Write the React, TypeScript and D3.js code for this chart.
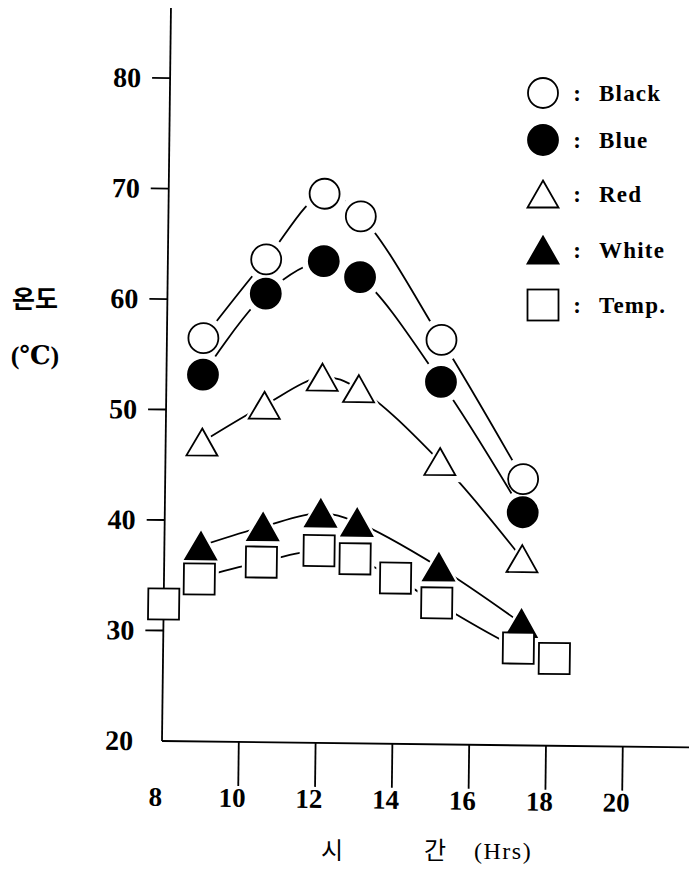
import React from 'react';
import * as d3 from 'd3';

// hours of the day when the coloured panels were read
const hours = [8.95, 10.56, 12.06, 13.01, 15.15, 17.32];
const black = [56.5, 63.7, 69.7, 67.7, 56.6, 44.1];
const blue = [53.2, 60.6, 63.6, 62.2, 52.8, 41.1];
const red = [47.1, 50.5, 53.1, 52.1, 45.6, 36.9];
const white = [37.7, 39.5, 40.8, 40.0, 36.05, 31.05];

// air temperature has its own readings
const tempHours = [8.0, 8.92, 10.53, 12.03, 12.97, 14.03, 15.11, 17.25, 18.19];
const temp = [32.4, 34.7, 36.3, 37.4, 36.7, 35.0, 32.8, 28.8, 27.9];

const seriesNames = ['Black', 'Blue', 'Red', 'White', 'Temp.'];
const seriesShapes = ['circleOpen', 'circleFilled', 'triOpen', 'triFilled', 'square'];

const yTicks = [30, 40, 50, 60, 70, 80];
const yLabels = [20, 30, 40, 50, 60, 70, 80];
const xTicks = [10, 12, 14, 16, 18, 20];
const xLabels = [8, 10, 12, 14, 16, 18, 20];

const W = 689;
const H = 871;
const ox = 162; // axis corner
const oy = 741;

const x = d3.scaleLinear().domain([8, 20]).range([ox, ox + 12 * 38.4]);
const y = d3.scaleLinear().domain([20, 80]).range([oy, oy - 663]);

const serif = '"Liberation Serif", "DejaVu Serif", serif';
const korean = '"Noto Sans CJK KR", sans-serif';

// draws one marker; grow enlarges the shape (used for the line gaps)
function Marker({ shape, cx, cy, grow = 0, fill }: any) {
  const sw = 1.8;
  const filled = shape === 'circleFilled' || shape === 'triFilled';
  const f = fill || (filled ? '#000' : '#fff');
  const st = fill || '#000';
  if (shape === 'circleOpen' || shape === 'circleFilled') {
    return <circle cx={cx} cy={cy} r={15 + grow} fill={f} stroke={st} strokeWidth={sw} />;
  }
  if (shape === 'triOpen' || shape === 'triFilled') {
    const hw = 15.5 + grow;
    const hh = 13.5 + grow;
    const d = `M${cx},${cy - hh}L${cx + hw},${cy + hh}L${cx - hw},${cy + hh}Z`;
    return <path d={d} fill={f} stroke={st} strokeWidth={sw} strokeLinejoin="miter" />;
  }
  const s = 15.5 + grow;
  return <rect x={cx - s} y={cy - s} width={2 * s} height={2 * s} fill={f} stroke={st} strokeWidth={sw} />;
}

export default function App() {
  const series = [
    { name: seriesNames[0], shape: seriesShapes[0], pts: hours.map((h, i) => [h, black[i]]), gap: 6 },
    { name: seriesNames[1], shape: seriesShapes[1], pts: hours.map((h, i) => [h, blue[i]]), gap: 6 },
    { name: seriesNames[2], shape: seriesShapes[2], pts: hours.map((h, i) => [h, red[i]]), gap: 6 },
    { name: seriesNames[3], shape: seriesShapes[3], pts: hours.map((h, i) => [h, white[i]]), gap: 6 },
    { name: seriesNames[4], shape: seriesShapes[4], pts: tempHours.map((h, i) => [h, temp[i]]), gap: 3 },
  ];

  const line = d3
    .line<number[]>()
    .x((d) => x(d[0]))
    .y((d) => y(d[1]))
    .curve(d3.curveCatmullRom.alpha(0.5));

  const legendY = [93, 140, 194, 250, 305];

  return (
    <div style={{ position: 'absolute', left: 0, top: 0 }}>
      <svg width={W} height={H} viewBox={`0 0 ${W} ${H}`} style={{ display: 'block', background: '#fff' }}>
        <rect width={W} height={H} fill="#fff" />
        <defs>
          {series.map((s, i) => (
            <mask key={i} id={`gap${i}`} maskUnits="userSpaceOnUse" x={-100} y={-100} width={W + 200} height={H + 200}>
              <rect x={-100} y={-100} width={W + 200} height={H + 200} fill="#fff" />
              {s.pts.map((p, j) => (
                <Marker key={j} shape={s.shape} cx={x(p[0])} cy={y(p[1])} grow={s.gap} fill="#000" />
              ))}
            </mask>
          ))}
        </defs>

        <g transform={`rotate(0.7, ${ox}, ${oy})`}>
          {/* axes */}
          <line x1={ox} y1={oy} x2={ox} y2={8} stroke="#000" strokeWidth={1.8} />
          <line x1={ox} y1={oy} x2={720} y2={oy} stroke="#000" strokeWidth={1.8} />

          {yTicks.map((t) => (
            <line key={t} x1={ox - 18} x2={ox} y1={y(t)} y2={y(t)} stroke="#000" strokeWidth={1.8} />
          ))}
          {yLabels.map((t) => (
            <text key={t} x={ox - 29} y={y(t)} dy="0.34em" textAnchor="end" fontFamily={serif} fontWeight="bold" fontSize={28}>
              {t}
            </text>
          ))}

          {xTicks.map((t) => (
            <line key={t} x1={x(t)} x2={x(t)} y1={oy} y2={oy + 44} stroke="#000" strokeWidth={1.8} />
          ))}
          {xLabels.map((t) => (
            <text key={t} x={x(t) - 6} y={806} textAnchor="middle" fontFamily={serif} fontWeight="bold" fontSize={27}>
              {t}
            </text>
          ))}

          {/* lines with gaps around their own markers */}
          {series.map((s, i) => (
            <path key={i} d={line(s.pts) || ''} fill="none" stroke="#000" strokeWidth={1.8} mask={`url(#gap${i})`} />
          ))}

          {/* markers */}
          {series.map((s, i) => (
            <g key={i}>
              {s.pts.map((p, j) => (
                <Marker key={j} shape={s.shape} cx={x(p[0])} cy={y(p[1])} />
              ))}
            </g>
          ))}
        </g>

        {/* legend */}
        {series.map((s, i) => (
          <g key={i}>
            <Marker shape={s.shape} cx={543} cy={legendY[i]} />
            <text x={577} y={legendY[i]} dy="0.35em" textAnchor="middle" fontFamily={serif} fontWeight="bold" fontSize={23}>
              :
            </text>
            <text x={599} y={legendY[i]} dy="0.35em" fontFamily={serif} fontWeight="bold" fontSize={23} letterSpacing={1.2}>
              {s.name}
            </text>
          </g>
        ))}

        {/* axis titles */}
        <text x={35} y={299} dy="0.35em" textAnchor="middle" fontFamily={korean} fontWeight="bold" fontSize={25}>
          온도
        </text>
        <text x={35} y={355} dy="0.35em" textAnchor="middle" fontFamily={serif} fontWeight="bold" fontSize={26}>
          (℃)
        </text>
        <text x={332} y={859} textAnchor="middle" fontFamily={korean} fontSize={24}>
          시
        </text>
        <text x={435} y={859} textAnchor="middle" fontFamily={korean} fontSize={24}>
          간
        </text>
        <text x={474} y={859} fontFamily={serif} fontSize={24} letterSpacing={1.5}>
          (Hrs)
        </text>
      </svg>
    </div>
  );
}
